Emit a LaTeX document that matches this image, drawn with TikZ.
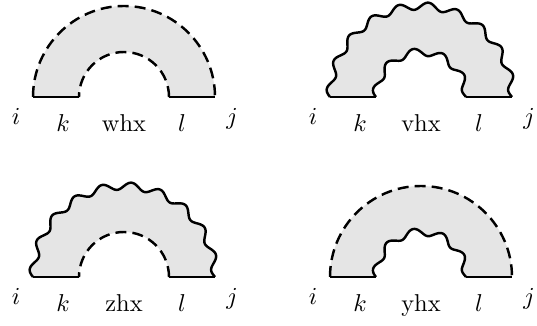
\documentclass[tikz,border=0pt]{standalone}
\usepackage{amsmath}
\tikzset{
  ring/.style     = {fill=gray!20},
  leg/.style      = {line width=1pt},
  dashline/.style = {line width=1pt, dash pattern=on 4.5pt off 2.5pt},
  waveline/.style = {line width=1pt, line join=round},
  lbl/.style      = {anchor=base, inner sep=0pt}
}
% radius of the wavy arcs, as a function of the angle \x
\newcommand{\outerwave}{91+3.6*sin(20*(180-\x))}
\newcommand{\innerwave}{45+3.6*sin(10*(180-\x))}

\begin{document}
\begin{tikzpicture}[x=0.41pt, y=0.41pt]
  \useasboundingbox (0,0) rectangle (537,326);

  % whx: dashed outside, dashed inside
  \begin{scope}[shift={(124,229)}]
    \fill[ring] (-91,0) arc[start angle=180, end angle=0, radius=91]
      -- (45,0) arc[start angle=0, end angle=180, radius=45] -- cycle;
    \draw[dashline] (-91,0) arc[start angle=180, end angle=0, radius=91];
    \draw[dashline] (45,0) arc[start angle=0, end angle=180, radius=45];
    \draw[leg] (-91,0) -- (-45,0) (45,0) -- (91,0);
    \node[lbl] (i1) at (-108,-28) {$i$};
    \node[lbl] (k1) at (-61,-35) {$k$};
    \node[lbl] (n1) at (0,-35) {whx};
    \node[lbl] (l1) at (58,-35) {$l$};
    \node[lbl] (j1) at (108,-28) {$j$};
  \end{scope}

  % vhx: wavy outside, wavy inside
  \begin{scope}[shift={(421,229)}]
    \fill[ring] plot[domain=180:0, samples=241] (\x:{\outerwave})
      -- plot[domain=0:180, samples=121] (\x:{\innerwave}) -- cycle;
    \draw[waveline] plot[domain=180:0, samples=241] (\x:{\outerwave});
    \draw[waveline] plot[domain=0:180, samples=121] (\x:{\innerwave});
    \draw[leg] (-91,0) -- (-45,0) (45,0) -- (91,0);
    \node[lbl] (i2) at (-108,-28) {$i$};
    \node[lbl] (k2) at (-61,-35) {$k$};
    \node[lbl] (n2) at (0,-35) {vhx};
    \node[lbl] (l2) at (58,-35) {$l$};
    \node[lbl] (j2) at (108,-28) {$j$};
  \end{scope}

  % zhx: wavy outside, dashed inside
  \begin{scope}[shift={(124,49)}]
    \fill[ring] plot[domain=180:0, samples=241] (\x:{\outerwave})
      -- (45,0) arc[start angle=0, end angle=180, radius=45] -- cycle;
    \draw[waveline] plot[domain=180:0, samples=241] (\x:{\outerwave});
    \draw[dashline] (45,0) arc[start angle=0, end angle=180, radius=45];
    \draw[leg] (-91,0) -- (-45,0) (45,0) -- (91,0);
    \node[lbl] (i3) at (-108,-28) {$i$};
    \node[lbl] (k3) at (-61,-35) {$k$};
    \node[lbl] (n3) at (0,-35) {zhx};
    \node[lbl] (l3) at (58,-35) {$l$};
    \node[lbl] (j3) at (108,-28) {$j$};
  \end{scope}

  % yhx: dashed outside, wavy inside
  \begin{scope}[shift={(421,49)}]
    \fill[ring] (-91,0) arc[start angle=180, end angle=0, radius=91]
      -- plot[domain=0:180, samples=121] (\x:{\innerwave}) -- cycle;
    \draw[dashline] (-91,0) arc[start angle=180, end angle=0, radius=91];
    \draw[waveline] plot[domain=0:180, samples=121] (\x:{\innerwave});
    \draw[leg] (-91,0) -- (-45,0) (45,0) -- (91,0);
    \node[lbl] (i4) at (-108,-28) {$i$};
    \node[lbl] (k4) at (-61,-35) {$k$};
    \node[lbl] (n4) at (0,-35) {yhx};
    \node[lbl] (l4) at (58,-35) {$l$};
    \node[lbl] (j4) at (108,-28) {$j$};
  \end{scope}
\end{tikzpicture}
\end{document}
